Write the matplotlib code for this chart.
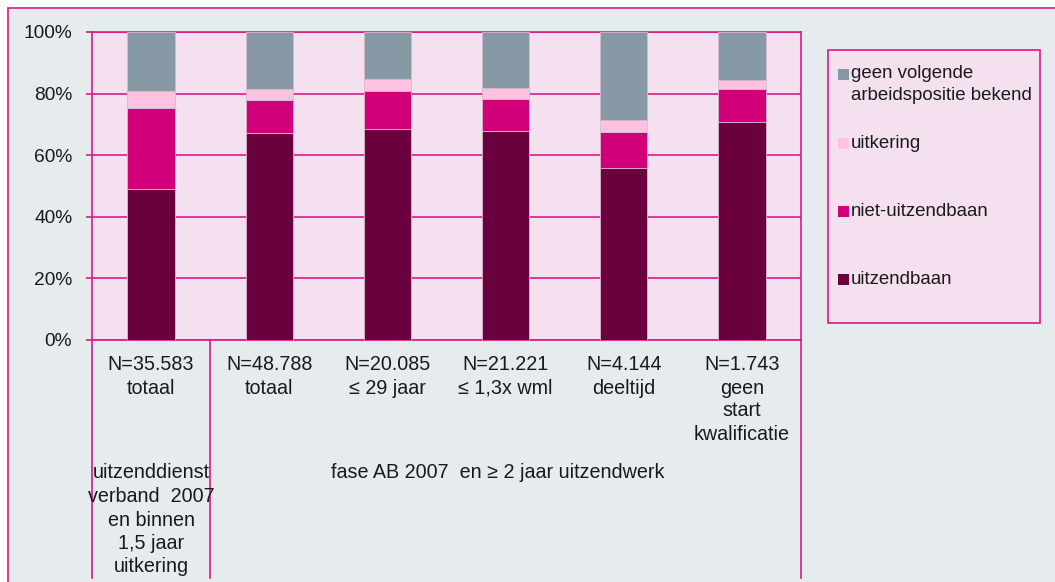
import matplotlib
matplotlib.use("Agg")
import matplotlib.pyplot as plt
from matplotlib.patches import Rectangle
from matplotlib.lines import Line2D
import numpy as np

plt.rcParams['font.family'] = ['Liberation Sans', 'DejaVu Sans']

# ---- data ----
categories = ["N=35.583\ntotaal", "N=48.788\ntotaal", "N=20.085\n≤ 29 jaar",
              "N=21.221\n≤ 1,3x wml", "N=4.144\ndeeltijd", "N=1.743\ngeen\nstart\nkwalificatie"]
series_names = ["uitzendbaan", "niet-uitzendbaan", "uitkering",
                "geen volgende\narbeidspositie bekend"]
uitzendbaan = [49.1, 67.3, 68.4, 68.0, 55.9, 70.9]
niet_uitzendbaan = [26.3, 10.7, 12.5, 10.4, 11.5, 10.5]
uitkering = [5.5, 3.4, 3.9, 3.5, 4.0, 3.0]
geen_volgende = [19.1, 18.6, 15.2, 18.1, 28.6, 15.6]
series_values = [uitzendbaan, niet_uitzendbaan, uitkering, geen_volgende]
group_labels = ["uitzenddienst\nverband  2007\nen binnen\n1,5 jaar\nuitkering",
                "fase AB 2007  en ≥ 2 jaar uitzendwerk"]
y_ticks = [0, 20, 40, 60, 80, 100]
y_tick_labels = ["0%", "20%", "40%", "60%", "80%", "100%"]

# ---- style ----
colors = ["#6A003D", "#D1007A", "#FDC2E2", "#8899A6"]
mag = "#DB1A87"
outer_bg = "#E6EBEE"
plot_bg = "#F5E0F0"
txt = "#1a1a1a"
FS_LEG = 13.4
FS_X = 14.2
FS_Y = 13.8
LW = 1.2

W, H = 1055, 582
fig = plt.figure(figsize=(W / 100, H / 100), dpi=100)
fig.patch.set_facecolor("white")

def fx(px):
    return px / W

def fy(py):
    return 1 - py / H

# outer gray panel
fig.patches.append(Rectangle((fx(8), fy(600)), fx(1100), fy(8) - fy(600),
                             transform=fig.transFigure, facecolor=outer_bg,
                             edgecolor=mag, linewidth=LW, zorder=-5))

ax_l, ax_r, ax_t, ax_b = 92, 801, 32, 340
ax = fig.add_axes([fx(ax_l), fy(ax_b), fx(ax_r - ax_l), fy(ax_t) - fy(ax_b)])
ax.set_zorder(2)
ax.set_facecolor(plot_bg)

x = np.arange(len(categories))
bottom = np.zeros(len(categories))
for vals, col in zip(series_values, colors):
    v = np.array(vals)
    ax.bar(x, v, width=0.4, bottom=bottom, color=col, edgecolor="#d9b9cd",
           linewidth=0.6, zorder=3)
    bottom += v

ax.set_xlim(-0.5, len(categories) - 0.5)
ax.set_ylim(0, 100)
ax.set_yticks(y_ticks)
ax.set_yticklabels(y_tick_labels, fontsize=FS_Y, color=txt)
ax.tick_params(axis='y', length=4.3, width=LW, color=mag, pad=10)
ax.set_xticks([])
ax.yaxis.grid(True, color=mag, linewidth=LW, zorder=1)
ax.set_axisbelow(True)
for s in ax.spines.values():
    s.set_color(mag)
    s.set_linewidth(LW)

trans = ax.get_xaxis_transform()
ax_h = ax_b - ax_t

def ay(py):
    return (ax_b - py) / ax_h

# category labels
line_h = 23
for i, lab in enumerate(categories):
    for j, line in enumerate(lab.split("\n")):
        ax.text(x[i], ay(365 + j * line_h), line, transform=trans, ha="center",
                va="center", fontsize=FS_X, color=txt, clip_on=False)

# group labels
g_pos = [0, (1 + len(categories) - 1) / 2 - 0.07]
for gi, lab in enumerate(group_labels):
    for j, line in enumerate(lab.split("\n")):
        ax.text(g_pos[gi], ay(473 + j * 23.5), line, transform=trans, ha="center",
                va="center", fontsize=FS_X, color=txt, clip_on=False)

# separators
for xs in [-0.5, 0.5, len(categories) - 0.5]:
    ax.add_line(Line2D([xs, xs], [0, ay(578)], transform=trans, color=mag,
                       linewidth=LW, clip_on=False))

# legend (manual)
fig.patches.append(Rectangle((fx(828), fy(323)), fx(1040 - 828), fy(50) - fy(323),
                             transform=fig.transFigure, facecolor=plot_bg,
                             edgecolor=mag, linewidth=LW, zorder=1))
leg_y = [74, 143, 211, 279]
for k, idx in enumerate([3, 2, 1, 0]):
    yy = leg_y[k]
    fig.patches.append(Rectangle((fx(838), fy(yy + 5.5)), fx(11), fy(yy - 5.5) - fy(yy + 5.5),
                                 transform=fig.transFigure, facecolor=colors[idx],
                                 edgecolor="none", zorder=2))
    for j, line in enumerate(series_names[idx].split("\n")):
        fig.text(fx(851), fy(yy + j * 22), line, ha="left", va="center",
                 fontsize=FS_LEG, color=txt, zorder=3)

fig.savefig("out.png", dpi=100, facecolor=fig.get_facecolor())
